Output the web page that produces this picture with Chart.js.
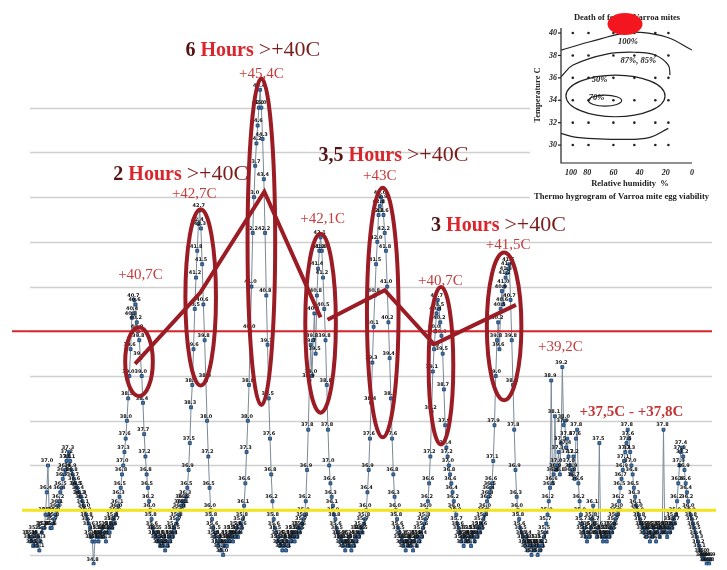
<!DOCTYPE html>
<html><head><meta charset="utf-8">
<script src="https://cdn.jsdelivr.net/npm/chart.js@4.4.0/dist/chart.umd.min.js"></script>
<style>
html,body{margin:0;padding:0;background:#fff;}
#wrap{position:relative;width:727px;height:570px;overflow:hidden;background:#fff;}
#main{position:absolute;left:0;top:0;}
#inset{position:absolute;left:530px;top:0;}
</style></head><body>
<div id="wrap"><canvas id="main" width="727" height="570"></canvas><canvas id="inset" width="197" height="203"></canvas></div>
<script>
// Hive temperature, one sample every half hour (°C)
const temps = [
35.4,35.3,35.4,35.2, 35.3,35.5,35.2,35.4, 35.1,35.3,35.5,35.6, 35.6,35.9,36.4,37.0,
35.9,35.6,35.6,35.7, 35.8,35.9,36.0,36.1, 36.2,36.4,36.5,36.7, 36.8,36.9,37.1,37.2,
37.3,37.1,36.9,36.8, 36.7,36.6,36.5,36.5, 36.4,36.3,36.3,36.2, 36.1,36.0,35.9,35.8,
35.7,35.6,35.4,35.3, 34.8,35.3,35.5,35.4, 35.3,35.5,35.4,35.6, 35.4,35.5,35.3,35.5,
35.6,35.5,35.7,35.6, 35.8,35.7,35.9,36.0, 36.1,36.3,36.5,36.8, 37.0,37.3,37.6,38.0,
38.5,39.0,39.6,40.3, 40.4,40.7,40.6,40.2, 40.0,39.8,39.4,39.0, 38.4,37.7,37.2,36.8,
36.5,36.2,36.0,35.8, 35.6,35.5,35.4,35.5, 35.3,35.4,35.2,35.3, 35.2,35.4,35.1,35.3,
35.2,35.4,35.3,35.5, 35.4,35.6,35.5,35.7, 35.8,35.9,36.0,36.1, 36.2,36.1,36.2,36.3,
36.5,36.9,37.5,38.3, 38.8,39.6,40.5,41.2, 41.8,42.4,42.7,42.3, 41.5,40.6,39.8,38.9,
38.0,37.2,36.5,36.0, 35.8,35.6,35.4,35.5, 35.3,35.2,35.4,35.1, 35.3,35.0,35.2,35.3,
35.2,35.4,35.3,35.5, 35.4,35.3,35.5,35.4, 35.6,35.4,35.5,35.7, 35.6,35.8,36.1,36.6,
37.3,38.0,38.8,40.0, 41.0,42.2,43.0,43.7, 44.2,44.6,45.0,45.4, 45.0,44.3,43.4,42.2,
40.8,39.7,38.5,37.6, 36.8,36.2,35.8,35.6, 35.5,35.3,35.4,35.2, 35.3,35.1,35.2,35.4,
35.1,35.3,35.2,35.4, 35.3,35.5,35.4,35.3, 35.5,35.4,35.6,35.5, 35.6,35.7,35.8,35.9,
36.2,36.9,37.8,38.9, 39.7,39.0,39.8,40.4, 39.5,40.8,41.4,41.8, 42.1,41.8,41.2,40.5,
39.8,38.8,37.8,37.0, 36.6,36.3,36.1,35.9, 35.8,35.6,35.5,35.4, 35.3,35.4,35.2,35.3,
35.1,35.3,35.2,35.4, 35.2,35.1,35.3,35.2, 35.4,35.3,35.5,35.4, 35.5,35.6,35.5,35.7,
35.8,36.0,36.4,36.9, 37.6,38.4,39.3,40.1, 40.8,41.5,42.0,42.6, 42.8,43.0,42.9,42.6,
42.2,41.8,41.0,40.2, 39.4,38.5,37.6,36.8, 36.3,36.0,35.8,35.6, 35.5,35.3,35.4,35.2,
35.3,35.1,35.3,35.2, 35.4,35.2,35.3,35.1, 35.3,35.4,35.2,35.4, 35.3,35.5,35.4,35.6,
35.7,35.8,36.0,36.2, 36.6,37.2,38.2,39.1, 39.6,40.0,40.4,40.7, 40.5,40.2,39.9,39.5,
38.7,37.9,37.4,37.2, 37.0,36.8,36.6,36.4, 36.2,36.0,35.9,35.7, 35.6,35.5,35.3,35.4,
35.2,35.4,35.3,35.5, 35.3,35.4,35.2,35.5, 35.4,35.3,35.5,35.4, 35.6,35.5,35.7,35.6,
35.8,35.9,36.0,36.2, 36.3,36.4,36.5,36.6, 37.1,37.9,39.0,39.8, 40.2,39.6,40.5,40.9,
40.6,41.0,41.2,41.3, 41.4,41.5,40.7,39.8, 38.8,37.8,36.9,36.3, 36.0,35.8,35.6,35.5,
35.4,35.3,35.2,35.4, 35.1,35.3,35.2,35.0, 35.2,35.1,35.3,35.2, 35.0,35.2,35.1,35.3,
35.2,35.4,35.5,35.7, 35.9,36.2,36.5,38.9, 36.6,36.8,38.1,36.9, 37.0,37.3,36.8,37.5,
39.2,37.9,38.0,37.4, 37.6,37.2,37.0,36.8, 36.9,37.2,36.7,37.6, 37.8,36.6,36.2,35.9,
35.7,35.5,35.6,35.4, 35.3,35.5,35.4,35.6, 35.8,36.1,35.7,35.5, 35.4,35.6,37.5,35.5,
35.4,35.3,35.5,35.4, 35.3,35.5,35.4,35.6, 35.5,35.6,35.7,35.8, 35.9,36.0,36.2,36.5,
36.7,36.9,37.1,37.3, 37.5,37.8,37.6,37.3, 37.0,36.8,36.5,36.3, 36.1,36.0,35.9,35.8,
35.7,35.6,35.5,35.6, 35.4,35.6,35.5,35.3, 35.5,35.4,35.6,35.5, 35.3,35.5,35.6,35.4,
35.6,35.5,37.8,35.6, 35.5,35.4,35.6,35.5, 35.7,35.6,35.8,35.7, 35.9,36.2,36.6,37.0,
37.3,37.4,37.2,36.9, 36.6,36.4,36.2,36.0, 35.9,35.8,35.7,35.6, 35.5,35.4,35.3,35.2,
35.1,35.0,34.9,35.0, 34.9,34.8,34.9,34.8,34.9
];
const gridTemps = [35,36,37,38,39,40,41,42,43,44,45];
const limitHot = 40;
const limitBrood = 36;

// annotation geometry in data units: [sample, temp, halfWidth(samples), halfHeight(°C)]
const peakRings = [
  [88.8,39.32,11.2,0.77],[138.8,40.76,12.4,1.97],[188,42.0,11.2,3.65],[236,40.18,12.4,2.0],
  [286.4,40.42,12.8,2.79],[333.6,39.23,10,1.76],[384.8,40.11,14,1.65]
];
const trendA = [[85.6,39.27],[138.4,40.86],[190.4,43.12],[236,40.31]];
const trendB = [[241.6,40.26],[288,40.92],[328,39.71],[394.4,40.59]];
const headlines = [
  {num:'6 ', k:126.4, t:46.15},
  {num:'2 ', k:68, t:43.38},
  {num:'3,5 ', k:234.4, t:43.80},
  {num:'3 ', k:325.6, t:42.24}
];
const peakNotes = [
  ['+45,4C',188,45.67],['+42,7C',133.6,42.97],['+40,7C',90,41.16],['+42,1C',237.6,42.42],
  ['+43C',284,43.38],['+41,5C',388,41.85],['+40,7C',333.2,41.03],['+39,2C',430.4,39.56]
];
const rangeNote = ['+37,5C - +37,8C',488,38.11];

const RING = '#9b1c24';
const mainDecor = {
  id:'mainDecor',
  beforeDatasetsDraw(chart){
    const {ctx, scales:{y}} = chart;
    ctx.save();
    ctx.strokeStyle = '#cfcfcf'; ctx.lineWidth = 1.6;
    gridTemps.forEach(v=>{ const py=Math.round(y.getPixelForValue(v))+0.5; ctx.beginPath(); ctx.moveTo(30,py); ctx.lineTo(712,py); ctx.stroke(); });
    ctx.restore();
  },
  afterDatasetsDraw(chart){
    const {ctx, scales:{x,y}} = chart;
    const meta = chart.getDatasetMeta(0);
    ctx.save();
    // tiny value labels
    ctx.font = 'bold 5px "DejaVu Sans"'; ctx.fillStyle = '#141414'; ctx.textAlign='center'; ctx.textBaseline='bottom';
    meta.data.forEach((pt,i)=>{ ctx.fillText(temps[i].toFixed(1), pt.x-1, pt.y-2); });
    // limit lines
    ctx.lineWidth = 2; ctx.strokeStyle = '#d8262c';
    let py = y.getPixelForValue(limitHot); ctx.beginPath(); ctx.moveTo(12,py); ctx.lineTo(712,py); ctx.stroke();
    ctx.lineWidth = 3; ctx.strokeStyle = '#f3e51b';
    py = y.getPixelForValue(limitBrood); ctx.beginPath(); ctx.moveTo(22,py); ctx.lineTo(716,py); ctx.stroke();
    // rings
    ctx.strokeStyle = RING; ctx.lineWidth = 4;
    const sx = x.getPixelForValue(1)-x.getPixelForValue(0);
    const sy = y.getPixelForValue(0)-y.getPixelForValue(1);
    peakRings.forEach(([k,t,rk,rt])=>{
      ctx.beginPath(); ctx.ellipse(x.getPixelForValue(k), y.getPixelForValue(t), rk*sx, rt*sy, 0, 0, Math.PI*2); ctx.stroke();
    });
    [trendA,trendB].forEach(line=>{
      ctx.beginPath();
      line.forEach(([k,t],i)=>{ const px=x.getPixelForValue(k), pyy=y.getPixelForValue(t); i?ctx.lineTo(px,pyy):ctx.moveTo(px,pyy); });
      ctx.lineJoin='miter'; ctx.stroke();
    });
    // headlines
    ctx.textAlign='left'; ctx.textBaseline='alphabetic';
    headlines.forEach(h=>{
      let cx = x.getPixelForValue(h.k); const by = y.getPixelForValue(h.t);
      const parts = [
        [h.num,'bold 20px "Liberation Serif"','#541414'],
        ['Hours ','bold 20px "Liberation Serif"','#d9252b'],
        ['>+40C','22px "Liberation Serif"','#7a1d1d']
      ];
      parts.forEach(([s,f,c])=>{ ctx.font=f; ctx.fillStyle=c; ctx.fillText(s,cx,by); cx+=ctx.measureText(s).width; });
    });
    ctx.textAlign='center';
    ctx.font = '15px "Liberation Serif"'; ctx.fillStyle = '#c63c3c';
    peakNotes.forEach(([s,k,t])=>ctx.fillText(s, x.getPixelForValue(k), y.getPixelForValue(t)));
    ctx.font = 'bold 15px "Liberation Serif"'; ctx.fillStyle = '#c43535';
    ctx.fillText(rangeNote[0], x.getPixelForValue(rangeNote[1]), y.getPixelForValue(rangeNote[2]));
    ctx.restore();
  }
};

new Chart(document.getElementById('main'), {
  type:'line',
  data:{ datasets:[{
    data: temps.map((t,i)=>({x:i,y:t})),
    borderColor:'#7b8a98', borderWidth:1, tension:0,
    pointStyle:'rect', pointRadius:2.1, pointBackgroundColor:'#3a76b3', pointBorderColor:'#1e3c62', pointBorderWidth:0.8
  }]},
  options:{
    responsive:false, animation:false, events:[],
    layout:{padding:0},
    scales:{
      x:{type:'linear', min:-20, max:561.6, display:false},
      y:{type:'linear', min:34.77, max:47.3, display:false}
    },
    plugins:{legend:{display:false}, tooltip:{enabled:false}}
  },
  plugins:[mainDecor]
});

// ---- inset: thermo-hygrogram of Varroa mite viability ----
const insetHumidity = [91,79,60,44,28,18];
const insetTemps = [40,38,36,34,32,30];
const humidityTicks = [100,80,60,40,20,0];
const tempTicks = [40,38,36,34,32,30];
const contour100 = [[100,38.48],[77.9,39.22],[52.7,39.97],[39.7,40.06],[19.1,39.62],[0,38.48]];
const contour87 = [[100,36.10],[90.8,37.14],[65.1,38.12],[42.2,38.28],[28.2,38.04],[18.1,37.14],[16.8,36.25]];
const contourLow = [[100,31.04],[88.0,30.69],[52.7,30.51],[32.1,30.69],[18.1,31.49]];
const contourRings = [[58.4,34.39,37.8,1.86],[66.4,33.97,12.7,0.49]];
const contourLabels = [['100%',49,39.2],['87%, 85%',41,37.5],['50%',70.5,35.8],['70%',72.9,34.2]];

const insetDecor = {
  id:'insetDecor',
  beforeDraw(chart){ const c=chart.ctx; c.save(); c.fillStyle='#fff'; c.fillRect(0,0,chart.width,chart.height); c.restore(); },
  afterDatasetsDraw(chart){
    const {ctx, chartArea:a, scales:{x,y}} = chart;
    ctx.save();
    ctx.strokeStyle='#222'; ctx.lineWidth=1.2;
    ctx.beginPath(); ctx.moveTo(a.left,a.top); ctx.lineTo(a.left,a.bottom); ctx.lineTo(a.right,a.bottom); ctx.stroke();
    ctx.font='italic bold 8px "Liberation Serif"'; ctx.fillStyle='#222'; ctx.textAlign='right'; ctx.textBaseline='middle';
    tempTicks.forEach(v=>{ const py=y.getPixelForValue(v); ctx.beginPath(); ctx.moveTo(a.left-3,py); ctx.lineTo(a.left,py); ctx.stroke(); ctx.fillText(String(v), a.left-4, py); });
    ctx.textAlign='center'; ctx.textBaseline='top';
    humidityTicks.forEach((v,i)=>{ let px=x.getPixelForValue(v); if(i===0) px+=10; ctx.fillText(String(v), px, a.bottom+6); });
    ctx.lineWidth=1.2;
    contourRings.forEach(([h,t,rh,rt])=>{
      const cx=x.getPixelForValue(h), cy=y.getPixelForValue(t);
      const rx=Math.abs(x.getPixelForValue(h+rh)-cx), ry=Math.abs(y.getPixelForValue(t+rt)-cy);
      ctx.beginPath(); ctx.ellipse(cx,cy,rx,ry,0,0,Math.PI*2); ctx.stroke();
    });
    ctx.font='italic bold 8.5px "Liberation Serif"'; ctx.textBaseline='middle';
    contourLabels.forEach(([s,h,t])=>ctx.fillText(s, x.getPixelForValue(h), y.getPixelForValue(t)));
    ctx.font='bold 8.5px "Liberation Serif"'; ctx.textBaseline='middle';
    ctx.fillText('Relative humidity  %', 100, a.bottom+21);
    ctx.fillText('Death of female Varroa mites', 97, 18);
    ctx.save(); ctx.translate(8, 95); ctx.rotate(-Math.PI/2); ctx.fillText('Temperature C', 0, 0); ctx.restore();
    ctx.textAlign='left'; ctx.font='bold 8.6px "Liberation Serif"';
    ctx.fillText('Thermo hygrogram of Varroa mite egg viability', 4, 197);
    ctx.fillStyle='#f3161f';
    ctx.beginPath(); ctx.ellipse(95,24,17.5,11,0,0,Math.PI*2); ctx.fill();
    ctx.restore();
  }
};
const curve = pts => pts.map(([h,t])=>({x:h,y:t}));
new Chart(document.getElementById('inset'), {
  type:'scatter',
  data:{ datasets:[
    {data: insetTemps.flatMap(t=>insetHumidity.map(h=>({x:h,y:t}))), pointRadius:1.3, pointBackgroundColor:'#222', pointBorderWidth:0, showLine:false},
    {data: curve(contour100), showLine:true, tension:0.4, pointRadius:0, borderColor:'#222', borderWidth:1.2},
    {data: curve(contour87), showLine:true, tension:0.4, pointRadius:0, borderColor:'#222', borderWidth:1.2},
    {data: curve(contourLow), showLine:true, tension:0.4, pointRadius:0, borderColor:'#222', borderWidth:1.2}
  ]},
  options:{
    responsive:false, animation:false, events:[],
    layout:{padding:{left:31,top:28,right:35,bottom:40}},
    scales:{
      x:{type:'linear', min:0, max:100, reverse:true, display:false},
      y:{type:'linear', min:28.4, max:40.45, display:false}
    },
    plugins:{legend:{display:false}, tooltip:{enabled:false}}
  },
  plugins:[insetDecor]
});
</script>
</body></html>
